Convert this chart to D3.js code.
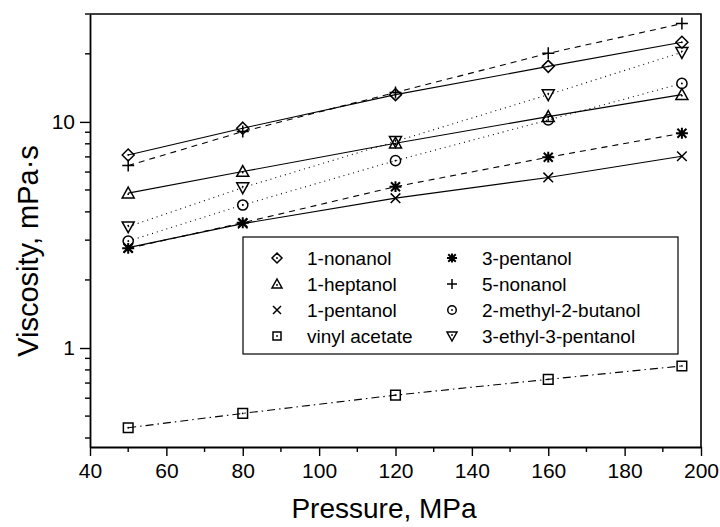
<!DOCTYPE html>
<html lang="en">
<head>
    <meta charset="UTF-8">
    <title>Viscosity vs Pressure</title>
    <style>
        body { margin: 0; background: #fff; }
        text { font-family: "Liberation Sans", Arial, sans-serif; fill: #000; }
        .axis path, .axis line { stroke: #000; }
    </style>
</head>
<body>
    <div id="chart-container"></div>
    <script src="https://d3js.org/d3.v7.min.js"></script>
    <script>
        // pressures (MPa) and viscosities (mPa·s)
        const pressure = [50, 80, 120, 160, 195];
        const nonanol1 = [7.14, 9.38, 13.2, 17.6, 22.5];
        const heptanol1 = [4.84, 6.03, 8.05, 10.55, 13.2];
        const pentanol1 = [2.78, 3.55, 4.6, 5.68, 7.05];
        const vinylAcetate = [0.444, 0.514, 0.619, 0.727, 0.833];
        const pentanol3 = [2.76, 3.58, 5.17, 6.98, 8.91];
        const nonanol5 = [6.41, 9.06, 13.5, 20.1, 27.2];
        const methylButanol = [2.97, 4.29, 6.74, 10.2, 14.8];
        const ethylPentanol = [3.44, 5.12, 8.2, 13.2, 20.3];

        const seriesNames = ["1-nonanol", "1-heptanol", "1-pentanol", "vinyl acetate",
            "3-pentanol", "5-nonanol", "2-methyl-2-butanol", "3-ethyl-3-pentanol"];
        const xTicks = [40, 60, 80, 100, 120, 140, 160, 180, 200];
        const xMinor = [50, 70, 90, 110, 130, 150, 170, 190];
        const yTicks = [1, 10];
        const yMinor = [0.4, 0.5, 0.6, 0.7, 0.8, 0.9, 2, 3, 4, 5, 6, 7, 8, 9, 20, 30];

        const series = [
            {name: seriesNames[0], values: nonanol1, mark: "diamond", dash: null},
            {name: seriesNames[1], values: heptanol1, mark: "triangle", dash: null},
            {name: seriesNames[2], values: pentanol1, mark: "times", dash: null},
            {name: seriesNames[3], values: vinylAcetate, mark: "square", dash: "8,4,1.5,4"},
            {name: seriesNames[4], values: pentanol3, mark: "asterisk", dash: "6,5"},
            {name: seriesNames[5], values: nonanol5, mark: "plus", dash: "6,5"},
            {name: seriesNames[6], values: methylButanol, mark: "circle", dash: "1,4"},
            {name: seriesNames[7], values: ethylPentanol, mark: "triangleDown", dash: "1,4"}
        ];

        const W = 720, H = 527;
        const L = 90, R = 701, T = 14, B = 447;

        const svg = d3.select("#chart-container").append("svg")
        .attr("width", W).attr("height", H);

        const x = d3.scaleLinear().domain([40, 200]).range([L, R]);
        const y = d3.scaleLog().domain([0.365, 30]).range([B, T]);

        // frame (top and right)
        svg.append("path")
        .attr("d", `M${L},${T}H${R}V${B}`)
        .attr("fill", "none").attr("stroke", "#000").attr("stroke-width", 1.6);

        // x axis
        const xAxis = svg.append("g").attr("class", "axis")
        .attr("transform", `translate(0, ${B})`)
        .call(d3.axisBottom(x).tickValues(xTicks).tickSize(9).tickSizeOuter(0).tickPadding(2));
        xAxis.append("g").selectAll("line").data(xMinor).enter().append("line")
        .attr("x1", d => x(d)).attr("x2", d => x(d))
        .attr("y1", 0).attr("y2", 5).attr("stroke", "#000");

        // y axis
        const yAxis = svg.append("g").attr("class", "axis")
        .attr("transform", `translate(${L}, 0)`)
        .call(d3.axisLeft(y).tickValues(yTicks).tickFormat(d3.format("d"))
            .tickSize(10).tickSizeOuter(0).tickPadding(5));
        yAxis.append("g").selectAll("line").data(yMinor).enter().append("line")
        .attr("y1", d => y(d)).attr("y2", d => y(d))
        .attr("x1", 0).attr("x2", -5).attr("stroke", "#000");

        svg.selectAll(".axis path.domain").attr("stroke-width", 1.8);
        svg.selectAll(".axis line").attr("stroke-width", 1.4);
        svg.selectAll(".axis text").style("font-size", "21px")
        .style("font-family", "'Liberation Sans', Arial, sans-serif").attr("fill", "#000");
        xAxis.selectAll(".tick text").attr("dy", "0.95em");

        // axis titles
        svg.append("text")
        .attr("x", 384).attr("y", 518)
        .attr("text-anchor", "middle")
        .style("font-size", "28px")
        .text("Pressure, MPa");
        svg.append("text")
        .attr("transform", "translate(38, 251) rotate(-90)")
        .attr("text-anchor", "middle")
        .style("font-size", "29px")
        .text("Viscosity, mPa·s");

        // marker shapes
        function markerPath(type, s) {
            const h = s / 2;
            switch (type) {
                case "diamond": return `M0,${-h}L${h},0L0,${h}L${-h},0Z`;
                case "triangle": return `M0,${-h}L${h},${h * 0.8}L${-h},${h * 0.8}Z`;
                case "triangleDown": return `M0,${h}L${h},${-h * 0.8}L${-h},${-h * 0.8}Z`;
                case "square": { const q = h * 0.8; return `M${-q},${-q}H${q}V${q}H${-q}Z`; }
                case "times": { const q = h * 0.8; return `M${-q},${-q}L${q},${q}M${q},${-q}L${-q},${q}`; }
                case "plus": return `M${-h},0H${h}M0,${-h}V${h}`;
                case "asterisk": {
                    const q = h * 0.75;
                    return `M${-q},${-q}L${q},${q}M${q},${-q}L${-q},${q}M${-h},0H${h}M0,${-h * 0.9}V${h * 0.9}`;
                }
                case "circle": {
                    const r = h * 0.85;
                    return `M${-r},0A${r},${r} 0 1,0 ${r},0A${r},${r} 0 1,0 ${-r},0`;
                }
            }
        }
        const dotted = ["diamond", "triangle", "triangleDown", "square", "circle"];

        function drawMarker(g, type, s, cx, cy) {
            const m = g.append("g").attr("transform", `translate(${cx}, ${cy})`);
            m.append("path").attr("d", markerPath(type, s))
            .attr("fill", "none").attr("stroke", "#000")
            .attr("stroke-width", type === "asterisk" ? 2 : 1.5);
            if (dotted.includes(type)) {
                m.append("circle").attr("r", 0.9).attr("fill", "#000")
                .attr("cy", type === "triangle" ? 1 : (type === "triangleDown" ? -1 : 0));
            }
        }

        const line = d3.line()
        .x((d, i) => x(pressure[i]))
        .y(d => y(d));

        const plot = svg.append("g");
        series.forEach(s => {
            plot.append("path")
            .datum(s.values)
            .attr("fill", "none")
            .attr("stroke", "#000")
            .attr("stroke-width", 1.1)
            .attr("stroke-dasharray", s.dash)
            .attr("d", line);
        });
        series.forEach(s => {
            s.values.forEach((v, i) => drawMarker(plot, s.mark, 12, x(pressure[i]), y(v)));
        });

        // legend
        const legend = svg.append("g");
        legend.append("rect")
        .attr("x", 243).attr("y", 237).attr("width", 435).attr("height", 117)
        .attr("fill", "#fff").attr("stroke", "#000").attr("stroke-width", 1.2);
        series.forEach((s, i) => {
            const col = Math.floor(i / 4), row = i % 4;
            const mx = col === 0 ? 277 : 452;
            const ty = 258 + row * 26;
            drawMarker(legend, s.mark, 10, mx, ty);
            legend.append("text")
            .attr("x", mx + 30).attr("y", ty)
            .attr("dy", "0.35em")
            .style("font-size", "19px")
            .text(s.name);
        });
    </script>
</body>
</html>
